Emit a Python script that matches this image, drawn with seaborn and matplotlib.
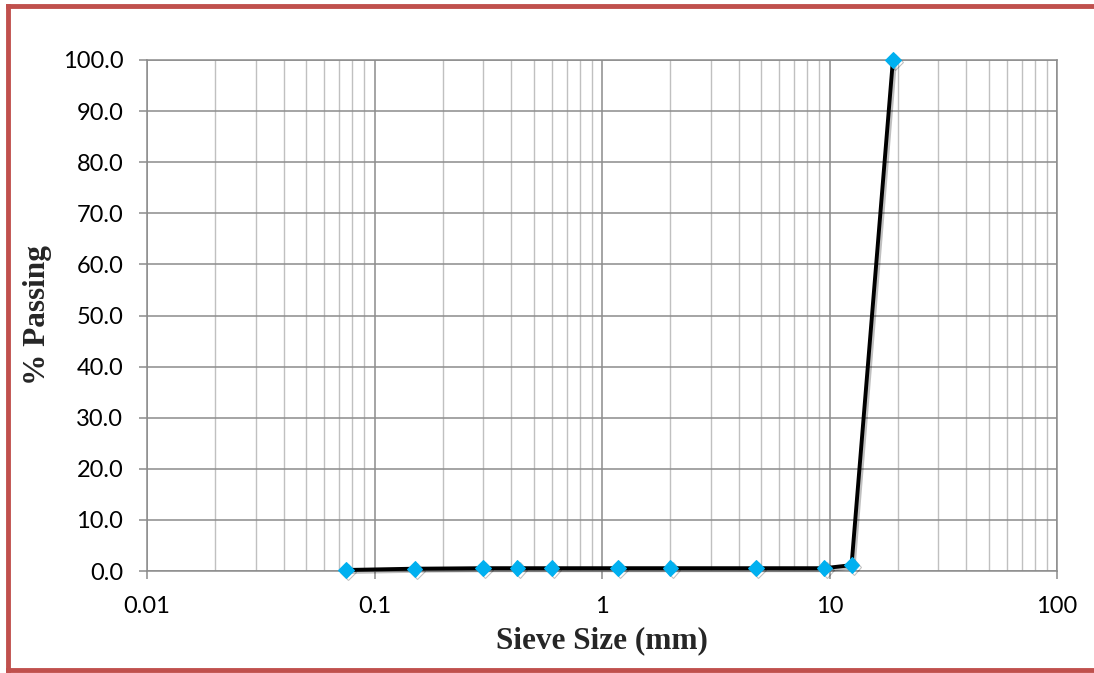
import matplotlib
matplotlib.use("Agg")
import matplotlib.pyplot as plt
import matplotlib.patheffects as pe
from matplotlib.lines import Line2D
from matplotlib.ticker import LogLocator, FixedLocator, FuncFormatter, NullFormatter
import seaborn as sns
import pandas as pd

sieve_mm = [0.075, 0.15, 0.3, 0.425, 0.6, 1.18, 2.0, 4.75, 9.5, 12.5, 19.0]
pct_passing = [0.2, 0.45, 0.55, 0.55, 0.55, 0.55, 0.55, 0.55, 0.55, 1.15, 100.0]
x_ticks = [0.01, 0.1, 1, 10, 100]
x_tick_labels = ["0.01", "0.1", "1", "10", "100"]
y_ticks = [0, 10, 20, 30, 40, 50, 60, 70, 80, 90, 100]

sns.set_style("white")
plt.rcParams['font.family'] = ['Lato', 'DejaVu Sans']

df = pd.DataFrame({"sieve": sieve_mm, "passing": pct_passing})

fig = plt.figure(figsize=(10.94, 6.73), dpi=100, facecolor="white", edgecolor="white", linewidth=0)
ax = fig.add_axes([147/1094, 1-571/673, (1057-147)/1094, (571-60)/673])

major_c = "#8c8c8c"
minor_c = "#c0c0c0"

ax.set_xscale("log")
ax.set_xlim(0.01, 100)
ax.set_ylim(0, 100)

ax.xaxis.set_major_locator(FixedLocator(x_ticks))
ax.xaxis.set_major_formatter(FuncFormatter(lambda v, p: x_tick_labels[x_ticks.index(v)] if v in x_ticks else ""))
ax.xaxis.set_minor_locator(LogLocator(base=10, subs=range(2, 10)))
ax.xaxis.set_minor_formatter(NullFormatter())
ax.yaxis.set_major_locator(FixedLocator(y_ticks))
ax.yaxis.set_major_formatter(FuncFormatter(lambda v, p: f"{v:.1f}"))

ax.grid(which="major", axis="both", color=major_c, linewidth=1.1)
ax.grid(which="minor", axis="x", color=minor_c, linewidth=1.0)
ax.set_axisbelow(True)
for s in ax.spines.values():
    s.set_color(major_c)
    s.set_linewidth(1.1)

ax.tick_params(axis="both", which="major", direction="out", length=6, width=1.1,
               color=major_c, labelsize=17, labelcolor="black")
ax.tick_params(axis="y", which="major", pad=11)
ax.tick_params(axis="x", which="major", pad=12)
ax.tick_params(axis="x", which="minor", length=0)
ax.tick_params(left=True, bottom=True)

sns.lineplot(data=df, x="sieve", y="passing", ax=ax, color="black", linewidth=2.8,
             marker="D", markersize=8, markerfacecolor="#00b0f0", markeredgecolor="#00b0f0",
             clip_on=False, zorder=5,
             path_effects=[pe.SimpleLineShadow(offset=(1.5, -1.5), alpha=0.25), pe.Normal()])

ax.set_xlabel("Sieve Size (mm)", family=["Liberation Serif"], fontweight="bold", fontsize=22.5, labelpad=6.5)
ax.set_ylabel("% Passing", family=["Liberation Serif"], fontweight="bold", fontsize=22.5, labelpad=8)

frame_c = "#c0504d"
fx0, fx1, fy0, fy1 = 8/1094, 1.02, 1 - 670/673, 1 - 6/673
for xs, ys in [((fx0, fx1), (fy1, fy1)), ((fx0, fx0), (fy0, fy1)), ((fx0, fx1), (fy0, fy0))]:
    fig.add_artist(Line2D(xs, ys, transform=fig.transFigure, color=frame_c, linewidth=3.5,
                          solid_capstyle="projecting"))

fig.savefig("out.png", dpi=100, facecolor="white")
